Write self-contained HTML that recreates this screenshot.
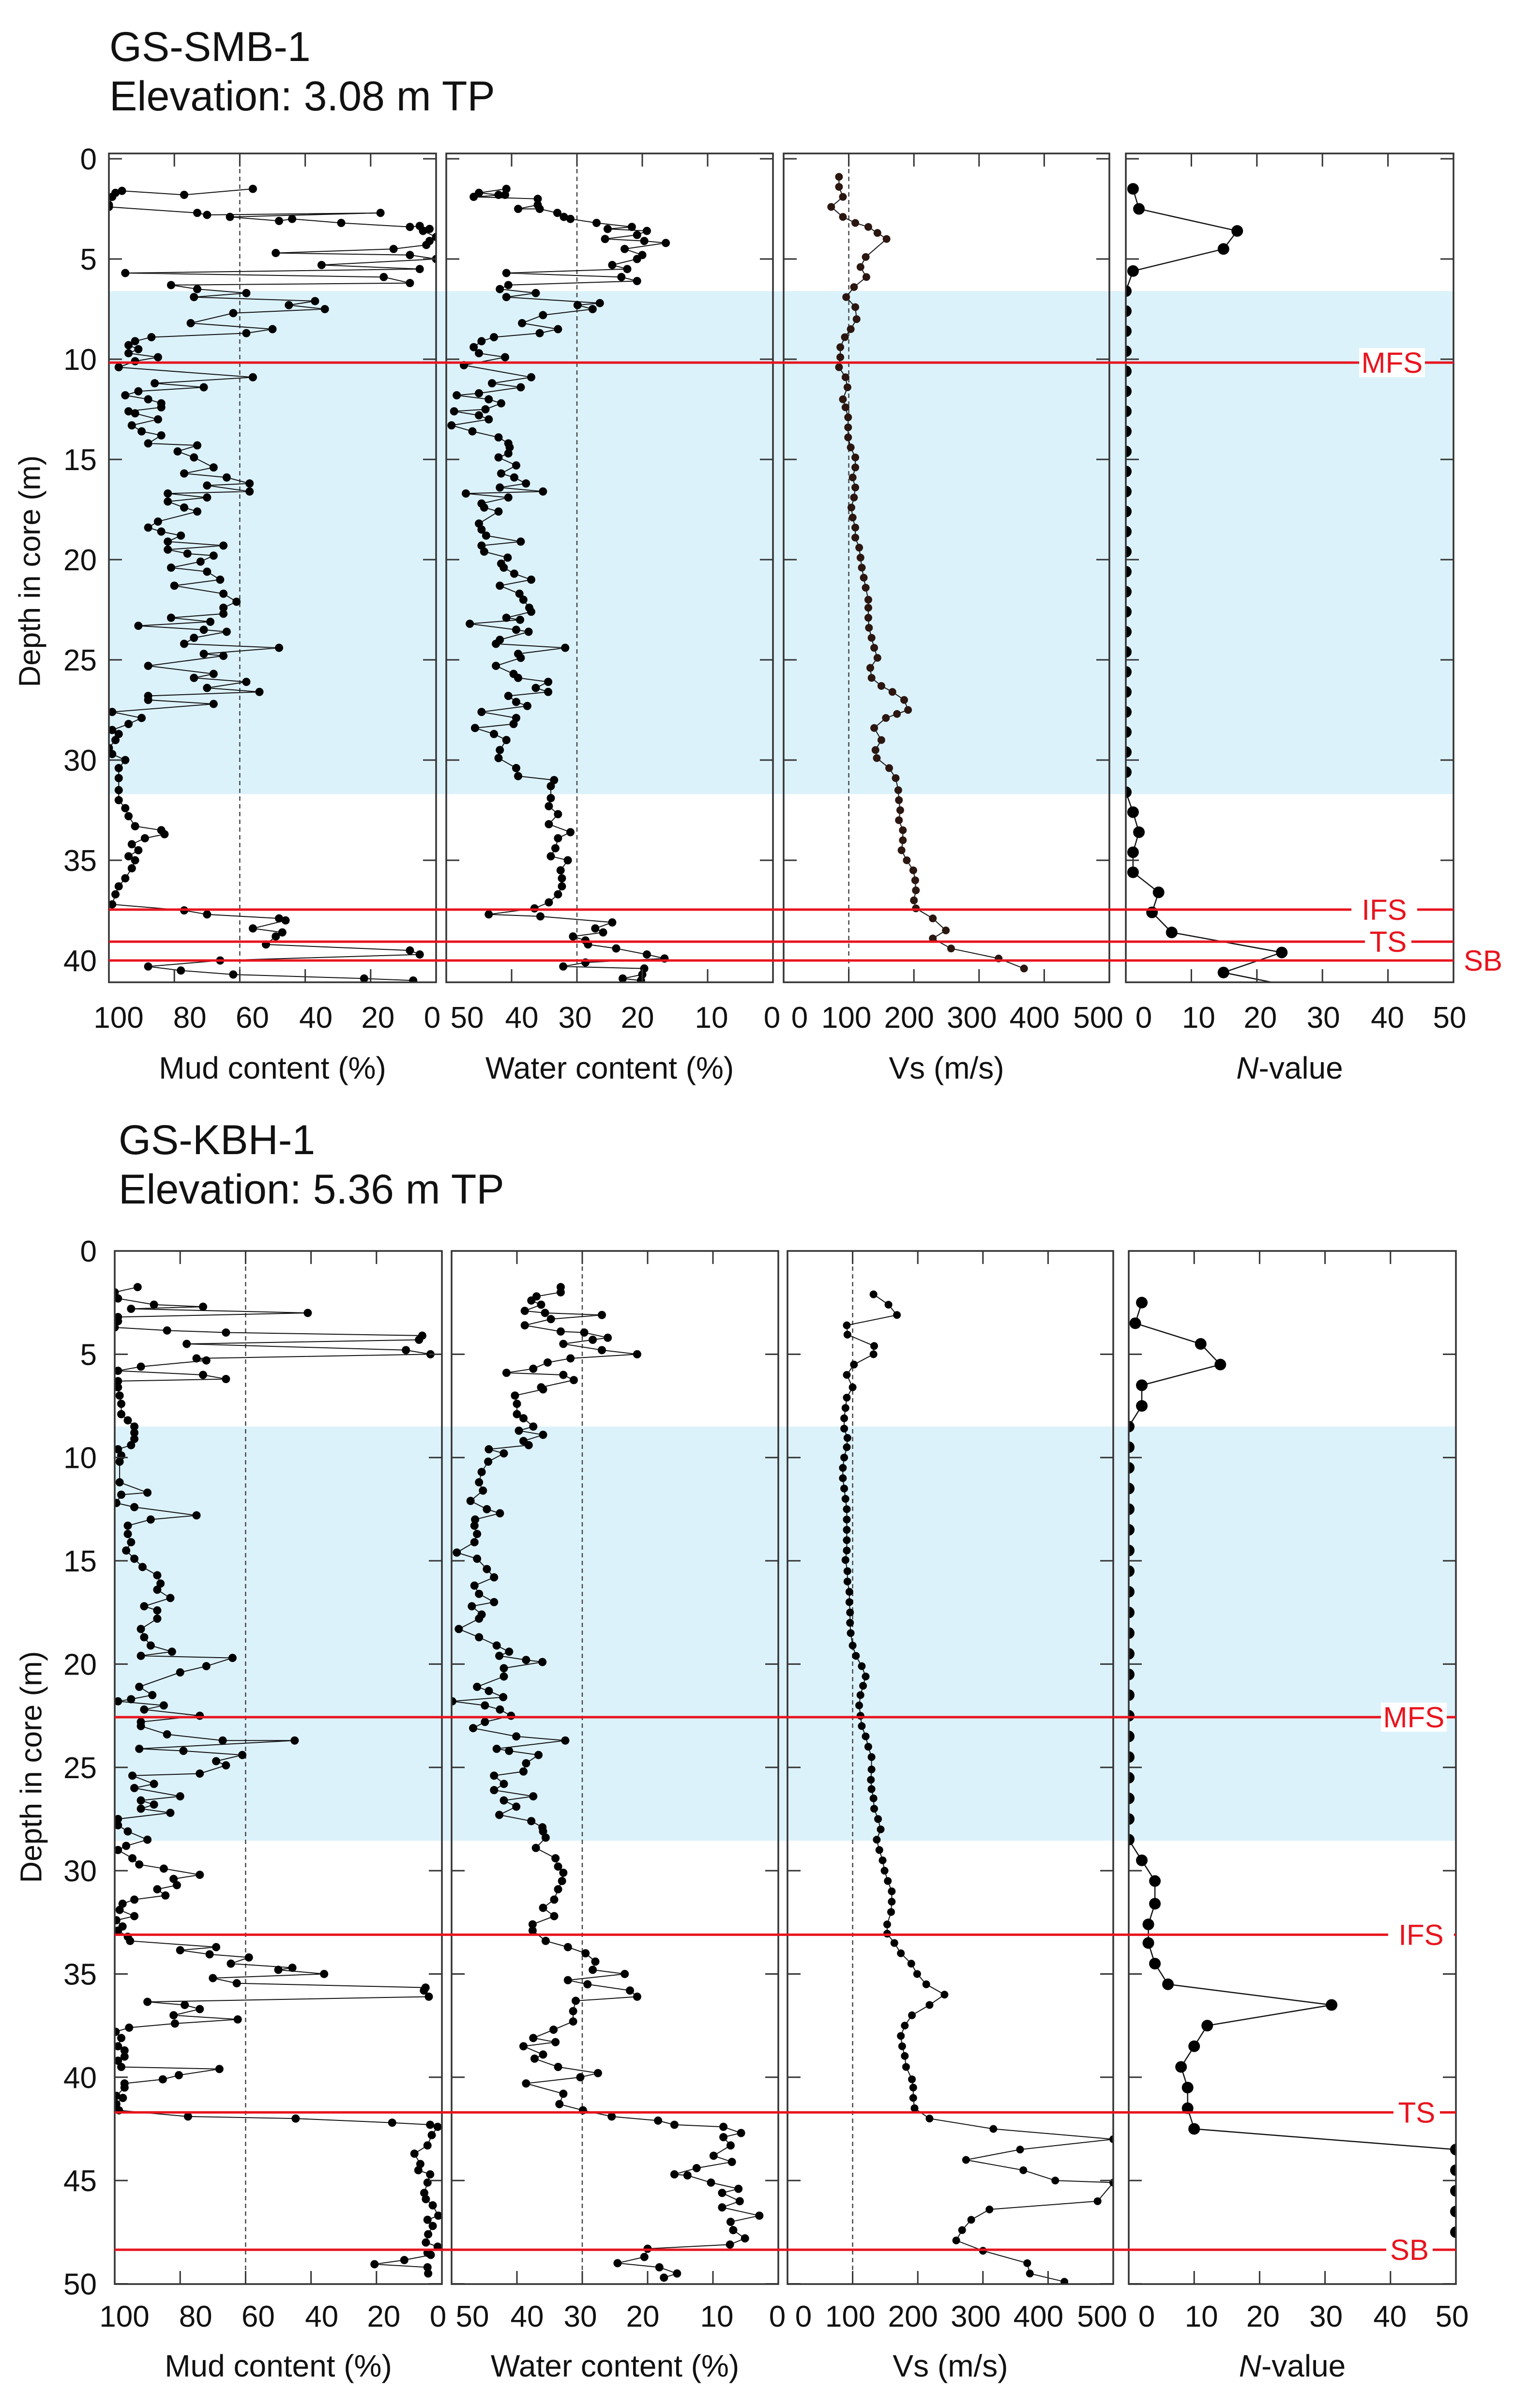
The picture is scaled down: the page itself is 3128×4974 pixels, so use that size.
<!DOCTYPE html>
<html><head><meta charset="utf-8"><title>Core logs GS-SMB-1 and GS-KBH-1</title>
<style>
html,body{margin:0;padding:0;background:#fff;}
svg{display:block;font-family:"Liberation Sans",Arial,sans-serif;}
</style></head>
<body>
<svg id="chart" xmlns="http://www.w3.org/2000/svg" width="3128" height="4974" viewBox="0 0 3128 4974">
<rect x="0" y="0" width="3128" height="4974" fill="#fff"/>
<text x="226" y="126" font-size="86" fill="#111">GS-SMB-1</text>
<text x="226" y="228" font-size="86" fill="#111">Elevation: 3.08 m TP</text>
<text x="245" y="2384" font-size="86" fill="#111">GS-KBH-1</text>
<text x="245" y="2486" font-size="86" fill="#111">Elevation: 5.36 m TP</text>
</svg>
<script>
// ---------- DATA ----------
const mudTicks=[100,80,60,40,20,0];
const waterTicks=[50,40,30,20,10,0];
const vsTicks=[0,100,200,300,400,500];
const nTicks=[0,10,20,30,40,50];
const depthTicksSmb=[0,5,10,15,20,25,30,35,40];
const depthTicksKbh=[0,5,10,15,20,25,30,35,40,45,50];
const surfaceNames=['MFS','IFS','TS','SB'];
const smbSurfaces=[10.17,37.46,39.06,40.0];
const kbhSurfaces=[22.57,33.1,41.7,48.35];
const smbBand=[6.6,31.7];
const kbhBand=[8.5,28.55];
const refLines=[60,30,100,null];

const smbMud=[[1.5,56],[1.8,77],[1.6,96],[1.7,98],[1.9,99],[2.3,100],[2.4,100],[2.7,73],[2.8,70],[2.7,17],[2.9,63],[3.1,48],[3.0,44],[3.2,29],[3.4,8],[3.35,5],[3.5,2],[3.6,4],[3.9,0],[4.1,2],[4.3,3],[4.5,13],[4.7,49],[4.8,8],[5.0,0],[5.3,35],[5.5,5],[5.7,95],[5.9,16],[6.2,8],[6.3,81],[6.5,73],[6.7,58],[6.9,74],[7.1,37],[7.3,45],[7.5,34],[7.7,62],[8.2,75],[8.5,50],[8.7,58],[8.9,87],[9.1,92],[9.3,94],[9.5,91],[9.7,94],[9.9,85],[10.1,92],[10.4,97],[10.9,56],[11.2,86],[11.4,71],[11.6,91],[11.8,95],[12.0,88],[12.2,84],[12.4,84],[12.6,94],[12.7,92],[13.0,85],[13.3,93],[13.6,90],[13.8,84],[14.2,88],[14.3,73],[14.6,79],[14.9,74],[15.4,68],[15.7,77],[15.9,64],[16.2,57],[16.3,70],[16.6,57],[16.7,82],[16.9,70],[17.1,82],[17.4,77],[17.6,73],[18.1,85],[18.4,88],[18.6,84],[18.8,78],[19.1,82],[19.3,65],[19.5,82],[19.7,76],[19.8,68],[20.1,72],[20.4,81],[20.6,70],[21.0,66],[21.3,80],[21.7,65],[22.1,61],[22.4,65],[22.7,65],[22.9,81],[23.1,69],[23.3,91],[23.5,71],[23.6,64],[23.9,74],[24.2,77],[24.4,48],[24.7,71],[24.8,65],[25.3,88],[25.7,68],[25.9,74],[26.1,58],[26.4,70],[26.6,54],[26.8,88],[27.0,88],[27.2,68],[27.6,99],[27.9,90],[28.2,94],[28.5,99],[28.7,97],[29.0,98],[29.4,100],[29.7,99],[30.0,95],[30.4,97],[30.9,97],[31.5,97],[32.0,97],[32.4,95],[32.8,94],[33.3,92],[33.5,84],[33.7,83],[33.9,89],[34.2,93],[34.5,91],[34.8,94],[35.0,92],[35.4,93],[35.9,95],[36.3,97],[36.7,98],[37.2,99],[37.5,77],[37.7,70],[37.9,48],[38.0,46],[38.4,56],[38.6,47],[38.8,49],[39.2,52],[39.5,8],[39.7,5],[40.0,66],[40.3,88],[40.5,78],[40.7,62],[40.9,22],[41.0,7]];

const smbWater=[[1.5,40.8],[1.7,45],[1.8,42],[1.8,41],[1.9,45.8],[2.0,36],[2.3,36],[2.5,39],[2.5,35.7],[2.7,33],[2.9,32],[3.0,31],[3.2,27],[3.4,21.6],[3.5,25.3],[3.6,19.3],[3.8,20.8],[4.0,25.7],[4.1,19.7],[4.2,16.4],[4.5,22.7],[4.8,20],[5.0,20.8],[5.3,24.6],[5.5,22.3],[5.7,40.8],[5.9,23.2],[6.1,20.8],[6.3,40.5],[6.5,41.8],[6.7,36.3],[6.9,40.8],[7.2,26.5],[7.3,29.9],[7.5,27.6],[7.8,35.2],[8.2,38.4],[8.5,32.9],[8.7,35.7],[8.9,42.7],[9.1,44.6],[9.4,45.8],[9.7,45],[9.9,41],[10.3,47.3],[10.9,37],[11.2,43],[11.4,38.6],[11.7,45],[11.8,48.4],[12.0,43.5],[12.2,41.6],[12.5,44],[12.6,48.8],[12.8,45],[13.0,43.5],[13.3,49.2],[13.6,46],[13.9,42],[14.2,40.5],[14.4,40.3],[14.7,40.5],[14.9,42],[15.3,39.3],[15.7,41.6],[15.9,39.6],[16.2,37.8],[16.4,41.8],[16.6,35.2],[16.7,47],[16.9,40.5],[17.2,44.6],[17.4,44.2],[17.6,42],[18.2,45],[18.5,44.6],[18.8,43.9],[19.1,38.6],[19.3,44.6],[19.6,44.2],[19.9,40.6],[20.2,41.6],[20.4,41.2],[20.7,39.6],[21.0,37],[21.3,41.8],[21.7,38.8],[22.0,38.2],[22.4,37.3],[22.6,37],[22.9,40.8],[23.0,38.7],[23.2,46.4],[23.5,39.3],[23.6,37.4],[24.0,41.8],[24.2,42.4],[24.4,31.8],[24.7,39],[24.9,38.6],[25.3,42.4],[25.7,39.7],[25.9,39],[26.1,34.4],[26.4,36.3],[26.6,34.4],[26.8,40.5],[27.1,39.3],[27.3,37.6],[27.6,44.6],[27.9,39.3],[28.2,39.7],[28.4,45.6],[28.7,42.7],[29.0,40.8],[29.5,41.8],[29.9,42],[30.4,39.3],[30.8,39],[31.0,33.5],[31.3,34],[31.9,34],[32.3,34.3],[32.7,32.9],[33.2,34.3],[33.6,31],[33.9,32.9],[34.4,33.3],[34.8,34],[35.0,31.4],[35.5,32.5],[35.9,32.3],[36.3,32.3],[36.7,32.9],[37.1,34.3],[37.4,36.5],[37.7,43.5],[37.8,35.6],[38.1,24.6],[38.4,27.2],[38.6,26],[38.8,30.6],[39.0,28.7],[39.2,28.3],[39.4,24],[39.7,19.3],[39.9,16.6],[40.1,28.7],[40.3,32.1],[40.4,19.7],[40.7,20],[40.9,23],[41.0,20.2]];

const smbVs=[[0.9,85],[1.4,85],[1.9,91],[2.4,73],[2.9,91],[3.2,110],[3.4,130],[3.7,144],[4.0,158],[4.9,126],[5.4,118],[5.9,127],[6.4,108],[6.9,96],[7.4,110],[8.0,112],[8.5,103],[8.9,94],[9.4,87],[9.9,87],[10.4,85],[10.9,95],[11.4,98],[12.0,91],[12.4,95],[12.9,99],[13.4,99],[13.9,99],[14.4,103],[14.9,110],[15.4,110],[15.9,106],[16.4,110],[16.9,108],[17.4,104],[17.9,106],[18.4,110],[18.9,110],[19.4,116],[19.9,118],[20.4,120],[20.9,123],[21.4,126],[22.0,130],[22.4,130],[22.9,130],[23.4,131],[23.9,135],[24.4,139],[24.9,144],[25.4,133],[25.9,135],[26.3,150],[26.6,167],[27.0,185],[27.5,191],[27.7,174],[27.9,157],[28.4,139],[29.0,150],[29.5,141],[29.9,143],[30.4,162],[30.9,172],[31.5,176],[32.0,177],[32.5,179],[33.0,177],[33.5,183],[34.0,183],[34.5,181],[35.0,189],[35.5,199],[36.0,202],[36.5,203],[37.0,200],[37.4,203],[37.9,229],[38.5,249],[38.9,229],[39.4,257],[39.9,330],[40.4,369]];

const smbN=[[1.5,1.1],[2.5,2],[3.6,17],[4.5,14.9],[5.6,1.1],[6.6,0],[7.6,0],[8.6,0],[9.6,0],[10.6,0],[11.6,0],[12.6,0],[13.6,0],[14.6,0],[15.6,0],[16.6,0],[17.6,0],[18.6,0],[19.6,0],[20.6,0],[21.6,0],[22.6,0],[23.6,0],[24.6,0],[25.6,0],[26.6,0],[27.6,0],[28.6,0],[29.6,0],[30.6,0],[31.6,0],[32.6,1.1],[33.6,2],[34.6,1.1],[35.6,1.1],[36.6,5],[37.6,4],[38.6,7],[39.6,23.8],[40.6,14.9],[41.6,30]];

const kbhMud=[[1.75,93],[2.0,100],[2.3,99],[2.6,88],[2.7,73],[2.8,95],[3.0,41],[3.2,99],[3.4,99],[3.7,100],[3.85,84],[3.95,66],[4.1,6],[4.3,7],[4.5,78],[4.8,11],[5.0,3.5],[5.2,75],[5.3,72],[5.6,92],[5.8,99],[6.0,73],[6.2,66],[6.3,99],[6.6,99],[7.0,98.5],[7.4,98],[7.9,98],[8.2,96],[8.5,94],[8.8,94],[9.1,94],[9.4,95],[9.6,99],[9.9,98],[10.2,98.5],[11.2,98.5],[11.7,90],[11.8,98],[12.2,99.5],[12.4,94],[12.8,75],[13.0,89],[13.3,96],[13.7,96],[14.1,95],[14.5,96.5],[14.9,94],[15.3,91.5],[15.7,87],[16.1,86],[16.4,87],[16.8,83],[17.2,91],[17.4,87],[17.8,87],[18.3,92],[18.7,91],[19.1,89],[19.4,82.5],[19.6,92],[19.7,64],[20.1,72],[20.4,80],[21.1,92.5],[21.5,88.5],[21.7,95],[21.8,99],[22.0,85],[22.2,91],[22.5,74],[22.8,92],[23.0,92],[23.4,84],[23.7,67],[23.7,45],[24.1,92.5],[24.2,79],[24.4,61],[24.7,69],[24.9,66],[25.3,74],[25.4,94.6],[25.8,88],[26.0,94],[26.4,80],[26.6,92],[26.8,88],[27.0,92],[27.2,83],[27.5,99],[27.8,99],[28.1,96],[28.5,90],[28.8,96.5],[29.0,99],[29.4,94.6],[29.7,92.5],[29.9,85],[30.2,74],[30.4,82],[30.7,81],[30.9,87],[31.2,84.5],[31.4,94],[31.6,97.6],[31.9,98.5],[32.2,94],[32.4,99.5],[32.7,97.6],[32.9,99],[33.2,96],[33.4,95.3],[33.7,69],[33.85,80],[34.05,71],[34.2,59],[34.5,64.5],[34.7,45.7],[34.8,50],[35.0,36],[35.2,70],[35.45,62.7],[35.66,5],[35.8,5.5],[36.1,4],[36.35,90],[36.5,78.6],[36.7,74],[37.0,82],[37.2,62.4],[37.4,81.6],[37.6,95.6],[37.8,99.7],[38.1,98],[38.5,99],[38.7,97],[39.0,97],[39.2,99],[39.5,98],[39.6,68],[39.9,80.4],[40.1,85.3],[40.3,97],[40.5,97],[40.9,99.5],[41.0,97.5],[41.3,99.5],[41.6,98.7],[41.9,77.6],[42.0,44.7],[42.2,15.2],[42.3,3.6],[42.4,1.3],[42.8,3.1],[43.3,4.4],[43.7,8.4],[44.2,6.6],[44.5,7.2],[44.7,3.6],[45.1,4.4],[45.6,5.4],[45.9,4.9],[46.2,2.8],[46.7,1.1],[46.9,4.4],[47.2,2.8],[47.6,4.2],[48.0,4.9],[48.2,1.3],[48.5,4.4],[48.6,3.4],[48.85,11.5],[49.05,20.6],[49.2,4.4],[49.5,4.2]];

const kbhWater=[[1.75,33.3],[2.0,33.3],[2.2,37],[2.4,37.8],[2.6,36.3],[2.9,38.8],[3.0,35.7],[3.1,27],[3.3,34.8],[3.6,38.8],[3.9,33.3],[3.95,29.7],[4.2,26.1],[4.3,28.4],[4.5,32.9],[4.8,27],[5.0,21.6],[5.2,31.8],[5.4,35.3],[5.7,37.5],[5.9,41.6],[6.0,32.9],[6.25,31.3],[6.6,36.3],[6.7,36],[7.0,40.3],[7.4,40],[7.9,40],[8.1,39],[8.5,37.5],[8.7,39.7],[8.9,36],[9.2,39],[9.4,38.2],[9.6,44.3],[9.8,42],[10.2,44.4],[10.7,45.4],[11.2,45.8],[11.6,45.2],[12.1,47.1],[12.5,44.6],[12.7,42.6],[13.0,46.4],[13.3,46.5],[13.7,46.1],[14.1,46.5],[14.6,49.2],[14.9,46.1],[15.4,44.6],[15.8,43.5],[16.2,46.5],[16.6,45.8],[17.0,43.5],[17.2,46.9],[17.6,45.4],[17.8,45.8],[18.3,48.9],[18.7,45.8],[19.1,43.1],[19.4,41.2],[19.6,42.7],[19.8,38.6],[19.9,36.1],[20.2,42],[20.6,42],[21.1,46.1],[21.3,44.3],[21.6,42.1],[21.8,49.9],[22.0,44.9],[22.2,42.6],[22.5,40.9],[22.8,44.9],[23.1,46.7],[23.5,40.1],[23.7,32.6],[24.1,43.1],[24.2,41.2],[24.4,36.7],[24.8,38.6],[25.2,39],[25.4,43.5],[25.8,42],[26.1,43.5],[26.4,37.5],[26.6,42],[26.9,40.1],[27.3,42.7],[27.6,37.8],[27.9,36.1],[28.1,36],[28.4,35.6],[28.9,37.1],[29.4,34.1],[29.8,33.7],[30.1,32.9],[30.5,33.1],[30.9,33.7],[31.4,34.3],[31.8,36],[32.2,34.3],[32.6,37.6],[32.9,37.6],[33.4,35.6],[33.7,32.2],[34.0,29.5],[34.4,28],[34.8,28.4],[35.0,23.5],[35.3,32.2],[35.5,29.2],[35.8,22.7],[36.1,21.6],[36.3,31],[36.8,31.4],[37.3,31.4],[37.7,34.4],[38.1,37.5],[38.3,34.1],[38.5,39],[38.9,36],[39.1,37.3],[39.5,33.7],[39.8,27.6],[40.0,30.3],[40.3,38.6],[40.8,32.9],[41.3,33.5],[41.6,29.9],[41.9,25.5],[42.1,18.4],[42.3,15.9],[42.4,8.4],[42.7,5.7],[42.9,8.4],[43.3,7.3],[43.8,9.9],[44.1,7.1],[44.4,12.5],[44.7,15.9],[44.75,13.9],[45.1,10.3],[45.4,6.1],[45.6,8.6],[46.0,5.9],[46.3,8.6],[46.7,2.9],[47.0,7.3],[47.4,6.9],[47.8,5.1],[48.1,7.4],[48.3,20],[48.7,20.5],[49.0,24.6],[49.2,18.2],[49.5,15.5],[49.7,17.5]];

const kbhVs=[[2.1,132],[2.6,155],[3.1,168],[3.6,91],[4.05,92],[4.6,133],[5.0,132],[5.5,102],[6.0,91],[6.6,100],[7.1,91],[7.6,89],[8.1,87],[8.6,87],[9.05,92],[9.5,91],[10.0,87],[10.5,85],[11.0,85],[11.5,87],[12.0,89],[12.5,91],[13.0,91],[13.5,91],[14.0,91],[14.5,91],[14.96,89],[15.5,92],[16.0,92],[16.5,95],[17.0,95],[17.5,96],[18.0,96],[18.5,97],[19.1,100],[19.6,105],[20.1,114],[20.6,120],[21.05,116],[21.5,112],[22.0,110],[22.5,112],[23.0,114],[23.5,120],[24.0,124],[24.5,129],[25.1,129],[25.6,128],[26.05,129],[26.5,132],[27.0,133],[27.5,139],[28.0,143],[28.5,137],[29.0,141],[29.5,146],[30.0,149],[30.5,154],[31.0,160],[31.5,160],[32.0,159],[32.6,153],[33.05,153],[33.5,164],[34.0,174],[34.5,190],[35.0,199],[35.5,213],[36.0,241],[36.5,218],[37.0,191],[37.5,180],[38.0,174],[38.5,176],[38.97,180],[39.5,182],[40.1,191],[40.5,193],[41.0,193],[41.5,195],[42.0,218],[42.5,316],[43.0,500],[43.5,357],[44.0,274],[44.5,362],[45.0,411],[45.1,500],[46.0,476],[46.4,310],[46.9,282],[47.4,268],[47.9,259],[48.4,300],[49.0,368],[49.5,372],[49.9,425]];

const kbhN=[[2.5,2],[3.5,1],[4.5,11],[5.5,14],[6.5,2],[7.5,2],[8.5,0],[9.5,0],[10.5,0],[11.5,0],[12.5,0],[13.5,0],[14.5,0],[15.5,0],[16.5,0],[17.5,0],[18.5,0],[19.5,0],[20.5,0],[21.5,0],[22.5,0],[23.5,0],[24.5,0],[25.5,0],[26.5,0],[27.5,0],[28.5,0],[29.5,2],[30.5,4],[31.6,4],[32.6,3],[33.5,3],[34.5,4],[35.5,6],[36.5,31],[37.5,12],[38.5,10],[39.5,8],[40.5,9],[41.5,9],[42.5,10],[43.5,50],[44.5,50],[45.5,50],[46.5,50],[47.5,50]];

// ---------- RENDER ----------
const NS='http://www.w3.org/2000/svg';
const svg=document.getElementById('chart');
function mk(tag,attrs,parent){const e=document.createElementNS(NS,tag);for(const k in attrs)e.setAttribute(k,attrs[k]);(parent||svg).appendChild(e);return e;}

const domains=[[100,0],[50,0],[0,500],[0,50]];
const tickSets=[mudTicks,waterTicks,vsTicks,nTicks];
const axisTitles=['Mud content (%)','Water content (%)','Vs (m/s)','N-value'];
const panelKeys=['mud','water','vs','n'];
// layout: label nudges (px) relative to tick positions
const labelNudge=[[20,32,26,22,15,-8],[43,21,-4,-10,8,-2],[33,-5,-10,-15,-20,-23],[37,15,7,2,-1,-8]];

const charts=[
 {key:'smb',top:317,bottom:2029,y0:328,k:41.4,panels:[[225,901],[922,1597],[1619,2292],[2326,3003]],
  series:[smbMud,smbWater,smbVs,smbN],surfaces:smbSurfaces,band:smbBand,depthTicks:depthTicksSmb,
  labelX:[2876,2860,2868,3064],tickLabelY:2123,titleY:2228,yTitle:[66,1180],vsColor:'#2b1610'},
 {key:'kbh',top:2584,bottom:4718,y0:2584,k:42.67,panels:[[237,913],[933,1608],[1627,2300],[2332,3008]],
  series:[kbhMud,kbhWater,kbhVs,kbhN],surfaces:kbhSurfaces,band:kbhBand,depthTicks:depthTicksKbh,
  labelX:[2921,2936,2927,2912],tickLabelY:4806,titleY:4909,yTitle:[69,3650],vsColor:'#000'}
];

charts.forEach((c,ci)=>{
  const g=mk('g',{});
  
  
  const yS=d=>c.y0+d*c.k;
  const left=c.panels[0][0], right=c.panels[3][1];
  const band=mk('rect',{x:left,y:yS(c.band[0]),width:right-left,height:yS(c.band[1])-yS(c.band[0]),fill:'#dcf2fb'},g);
  
  

  c.panels.forEach((p,pi)=>{
    const [x0,x1]=p; const [v0,v1]=domains[pi];
    const xS=v=>x0+(v-v0)/(v1-v0)*(x1-x0);
    const pg=mk('g',{},g);
    
    
    const cid='clip-'+c.key+'-'+pi;
    const cp=mk('clipPath',{id:cid},pg);
    mk('rect',{x:x0,y:c.top,width:x1-x0,height:c.bottom-c.top},cp);
    if(refLines[pi]!==null){
      const rl=mk('line',{x1:xS(refLines[pi]),x2:xS(refLines[pi]),y1:c.top,y2:c.bottom,stroke:'#444','stroke-width':2.5,'stroke-dasharray':'9,7'},pg);
      
      
    }
    const data=c.series[pi];
    const dg=mk('g',{'clip-path':'url(#'+cid+')'},pg);
    const pts=data.map(d=>xS(d[1]).toFixed(1)+','+yS(d[0]).toFixed(1)).join(' ');
    const line=mk('polyline',{points:pts,fill:'none',stroke:'#111','stroke-width':pi===3?2.5:2},dg);
    
    
    const r=pi===3?12:(pi===2?8:8.5);
    const col=pi===2?c.vsColor:'#000';
    data.forEach(d=>{
      const dot=mk('circle',{cx:xS(d[1]),cy:yS(d[0]),r:r,fill:col},dg);
      
      
    });
    tickSets[pi].forEach((t,ti)=>{
      const x=xS(t);
      mk('line',{x1:x,x2:x,y1:c.top,y2:c.top+27,stroke:'#333','stroke-width':3},pg);
      mk('line',{x1:x,x2:x,y1:c.bottom,y2:c.bottom-27,stroke:'#333','stroke-width':3},pg);
      const tl=mk('text',{x:x+labelNudge[pi][ti],y:c.tickLabelY,'font-size':62,'text-anchor':'middle',fill:'#111'},pg);
      tl.textContent=String(t);
      
      
    });
    c.depthTicks.forEach(d=>{
      const y=yS(d); if(y<c.top-1||y>c.bottom+1) return;
      mk('line',{x1:x0,x2:x0+27,y1:y,y2:y,stroke:'#333','stroke-width':3},pg);
      mk('line',{x1:x1,x2:x1-27,y1:y,y2:y,stroke:'#333','stroke-width':3},pg);
    });
    const fr=mk('rect',{x:x0,y:c.top,width:x1-x0,height:c.bottom-c.top,fill:'none',stroke:'#333','stroke-width':3.5},pg);
    
    
    const at=mk('text',{x:(x0+x1)/2,y:c.titleY,'font-size':64,'text-anchor':'middle',fill:'#111'},pg);
    
    
    if(pi===3){
      const ts=mk('tspan',{'font-style':'italic'},at); ts.textContent='N';
      const ts2=mk('tspan',{},at); ts2.textContent='-value';
    } else at.textContent=axisTitles[pi];
  });

  c.depthTicks.forEach(d=>{
    const t=mk('text',{x:200,y:yS(d)+22,'font-size':62,'text-anchor':'end',fill:'#111'},g);
    t.textContent=String(d);
    
    
  });
  const yt=mk('text',{x:c.yTitle[0],y:c.yTitle[1],'font-size':62,'text-anchor':'middle',fill:'#111',transform:'rotate(-90 '+c.yTitle[0]+' '+c.yTitle[1]+')','dominant-baseline':'middle'},g);
  yt.textContent='Depth in core (m)';
  
  

  c.surfaces.forEach((d,si)=>{
    const y=yS(d);
    const ln=mk('line',{x1:left,x2:right,y1:y,y2:y,stroke:'#e8141e','stroke-width':5},g);
    
    
    const lx=c.labelX[si];
    const w=surfaceNames[si].length*40+16;
    const bg=mk('rect',{x:lx-w/2,y:y-30,width:w,height:60,fill:'#fff'},g);
    
    
    const lt=mk('text',{x:lx,y:y+21,'font-size':60,'text-anchor':'middle',fill:'#e8141e'},g);
    lt.textContent=surfaceNames[si];
    
    
  });
});
</script>
</body></html>
